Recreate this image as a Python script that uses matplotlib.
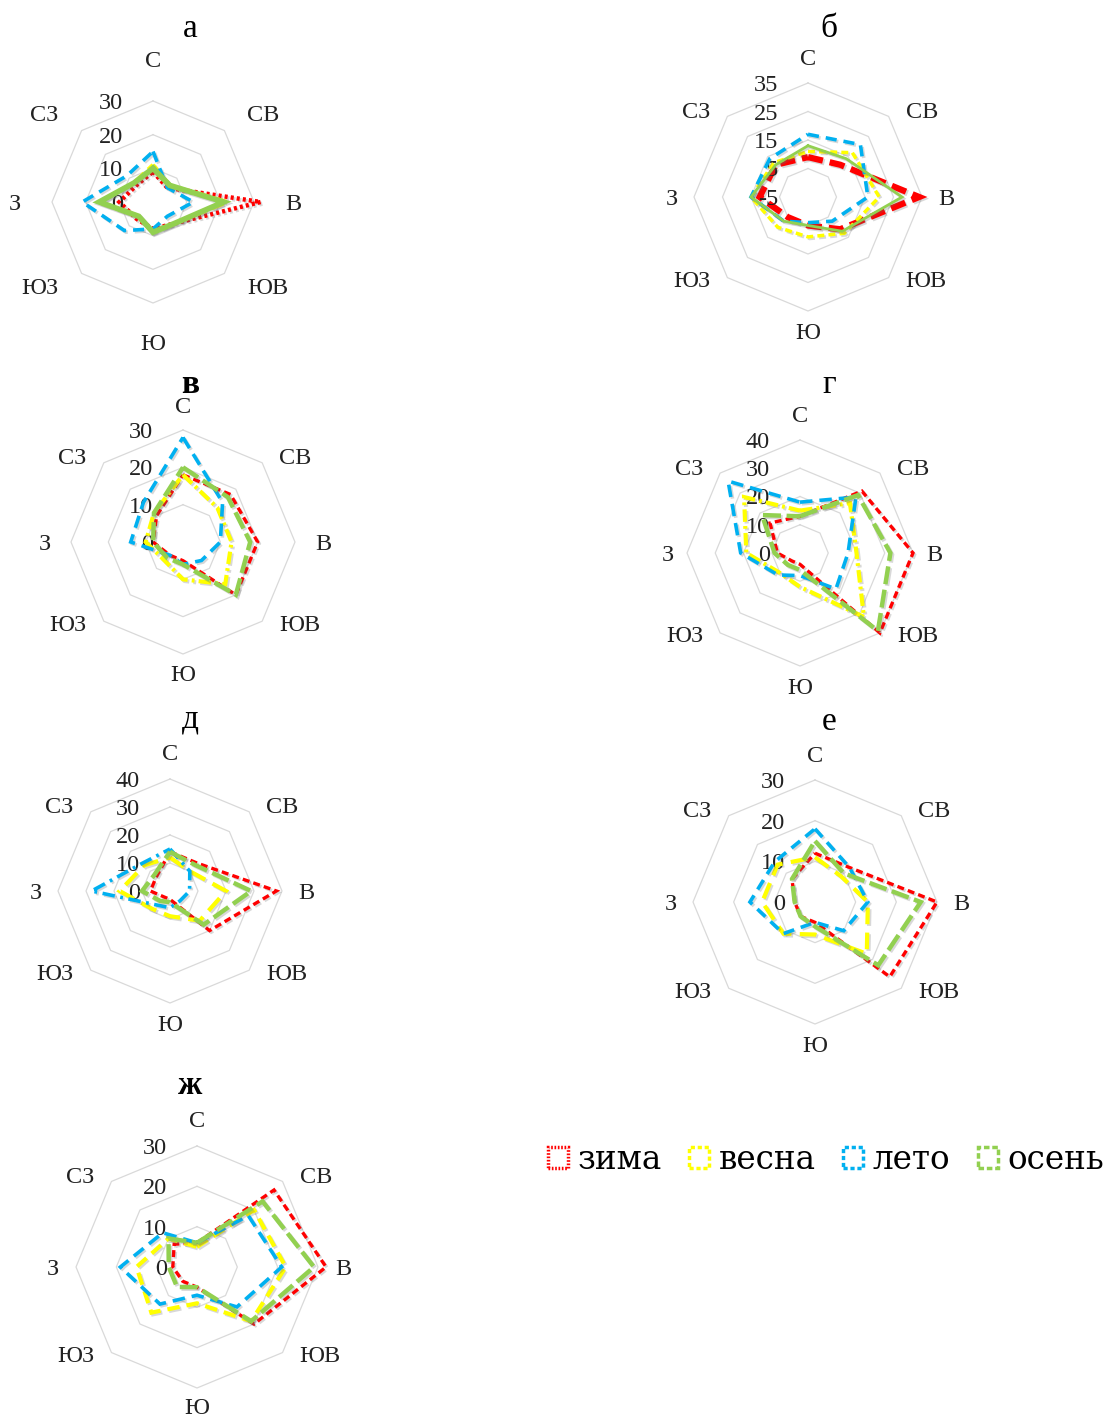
import matplotlib
matplotlib.use('Agg')
import matplotlib.pyplot as plt
import numpy as np
from matplotlib.patches import Patch
from matplotlib import patheffects as pe

plt.rcParams['font.family'] = ['Liberation Serif', 'DejaVu Serif']
plt.rcParams['lines.scale_dashes'] = False

# ---------------- data ----------------
directions = ['С', 'СВ', 'В', 'ЮВ', 'Ю', 'ЮЗ', 'З', 'СЗ']
seasons = ['зима', 'весна', 'лето', 'осень']
panel_titles = ['а', 'б', 'в', 'г', 'д', 'е', 'ж']

# panel а
a_zima = [9, 6, 32, 9, 8, 7, 10, 7]
a_vesna = [11, 7, 22, 9, 9, 6, 16, 8]
a_leto = [15, 6, 12, 6, 8, 12, 21, 11]
a_osen = [10, 7, 21, 9, 9, 6, 16, 8]
a_ticks = [0, 10, 20, 30]

# panel б
b_zima = [9, 11, 34, 11, 5, 5, 12, 11]
b_vesna = [11, 17, 20, 13, 9, 10, 15, 12]
b_leto = [17, 21, 16, 7, 4, 7, 15, 14]
b_osen = [13, 14, 28, 12, 5, 7, 15, 11]
b_ticks = [-5, 5, 15, 25, 35]

# panel в
v_zima = [18, 18, 20, 20, 5, 5, 8, 10]
v_vesna = [18, 13, 13, 16, 10, 7, 10, 11]
v_leto = [28, 15, 10, 7, 6, 5, 14, 15]
v_osen = [20, 17, 18, 20, 6, 6, 8, 11]
v_ticks = [0, 10, 20, 30]

# panel г
g_zima = [13, 31, 40, 40, 4, 4, 8, 15]
g_vesna = [15, 25, 20, 32, 12, 10, 19, 28]
g_leto = [18, 28, 17, 18, 8, 11, 21, 36]
g_osen = [13, 29, 32, 39, 6, 6, 9, 19]
g_ticks = [0, 10, 20, 30, 40]

# panel д
d_zima = [14, 14, 38, 20, 3, 3, 7, 7]
d_vesna = [12, 10, 20, 15, 9, 9, 18, 13]
d_leto = [15, 10, 7, 5, 6, 7, 28, 14]
d_osen = [14, 13, 29, 17, 4, 5, 10, 8]
d_ticks = [0, 10, 20, 30, 40]

# panel е
e_zima = [12, 12, 30, 26, 5, 5, 5, 8]
e_vesna = [11, 9, 13, 18, 8, 11, 13, 13]
e_leto = [18, 12, 13, 10, 5, 11, 16, 14]
e_osen = [15, 10, 26, 22, 6, 5, 5, 8]
e_ticks = [0, 10, 20, 30]

# panel ж
zh_zima = [6, 27, 32, 20, 5, 5, 6, 8]
zh_vesna = [5, 20, 22, 19, 9, 16, 15, 10]
zh_leto = [6, 18, 21, 14, 7, 13, 19, 12]
zh_osen = [6, 23, 29, 19, 5, 7, 7, 10]
zh_ticks = [0, 10, 20, 30]

panel_series = [
    [a_zima, a_vesna, a_leto, a_osen],
    [b_zima, b_vesna, b_leto, b_osen],
    [v_zima, v_vesna, v_leto, v_osen],
    [g_zima, g_vesna, g_leto, g_osen],
    [d_zima, d_vesna, d_leto, d_osen],
    [e_zima, e_vesna, e_leto, e_osen],
    [zh_zima, zh_vesna, zh_leto, zh_osen],
]
panel_ticks = [a_ticks, b_ticks, v_ticks, g_ticks, d_ticks, e_ticks, zh_ticks]

# ---------------- styles / layout ----------------
colors = ['#FF0000', '#FFFF00', '#00B0F0', '#92D050']

panel_styles = [
    [(3.2, (2.2, 2.2)), (3.0, (9, 4)), (2.6, (8, 5)), (4.0, None)],
    [(4.5, (11, 5)), (2.5, (5, 3)), (2.6, (8, 5)), (2.0, None)],
    [(2.4, (5, 3)), (3.0, (9, 3, 2, 3)), (2.6, (9, 5)), (3.2, (13, 4))],
    [(2.4, (5, 3)), (3.0, (9, 3, 2, 3)), (2.6, (9, 5)), (3.2, (13, 4))],
    [(2.4, (5, 3)), (3.0, (12, 6)), (2.6, (9, 4, 2, 4)), (3.2, (13, 4))],
    [(2.4, (5, 3)), (3.0, (12, 6)), (2.6, (8, 5)), (3.2, (13, 4))],
    [(2.4, (5, 3)), (3.0, (9, 5)), (2.6, (9, 5)), (3.2, (13, 4))],
]

W, H = 1113, 1417
# center x, center y, radius (px), title x, title baseline, top gap, side gap, bottom gap, diag offsets, bold
layout = [
    (153, 202, 101, 190, 37, 29, 31, 31, (23, 15), False),
    (808, 197, 114, 829, 37, 13, 16, 12, (17, 4), False),
    (183, 542, 112, 190, 393, 12, 20, 11, (17, 4), True),
    (800, 553, 113, 829, 393, 13, 13, 12, (17, 4), False),
    (170, 891, 112, 190, 728, 14, 16, 12, (17, 4), False),
    (815, 902, 122, 829, 730, 13, 16, 12, (17, 4), False),
    (197, 1267, 121, 190, 1094, 14, 17, 10, (17, 4), True),
]

PT = 0.72  # px -> pt at 100 dpi
fig = plt.figure(figsize=(W / 100, H / 100), dpi=100)

theta = np.deg2rad(np.arange(len(directions)) * 45.0)
theta_c = np.append(theta, theta[0])

shadow = [pe.SimpleLineShadow(offset=(1.2, -1.2), shadow_color='0.4', alpha=0.25), pe.Normal()]

for idx in range(7):
    cx, cy, R, tx, tb, gtop, gside, gbot, (ddx, ddy), bold = layout[idx]
    ticks = panel_ticks[idx]
    ax = fig.add_axes([(cx - R) / W, 1 - (cy + R) / H, 2 * R / W, 2 * R / H], projection='polar')
    ax.set_theta_zero_location('N')
    ax.set_theta_direction(-1)
    ax.set_ylim(ticks[0], ticks[-1])
    ax.grid(False)
    ax.spines['polar'].set_visible(False)
    ax.set_xticks([])
    ax.set_yticks([])
    ax.patch.set_visible(False)

    for v in ticks[1:]:
        ax.plot(theta_c, [v] * len(theta_c), color='#D9D9D9', lw=0.9, zorder=1, clip_on=False)

    for s, vals in enumerate(panel_series[idx]):
        lw, dashes = panel_styles[idx][s]
        vc = list(vals) + [vals[0]]
        line, = ax.plot(theta_c, vc, color=colors[s], lw=lw, zorder=3 + s, clip_on=False,
                        solid_joinstyle='miter', dash_joinstyle='miter', dash_capstyle='butt')
        if dashes is not None:
            line.set_dashes(dashes)
        line.set_path_effects(shadow)

    # tick labels
    for v in ticks:
        ax.annotate(str(v), xy=(0, v), xytext=(-30 * PT, 0), textcoords='offset points',
                    ha='right', va='center_baseline', fontsize=17.5, color='#222222',
                    annotation_clip=False)

    # direction labels
    rmax = ticks[-1]
    offs = [
        ((0, gtop), 'center', 'bottom'),
        ((ddx, ddy), 'left', 'center'),
        ((gside, 0), 'left', 'center_baseline'),
        ((ddx, -ddy), 'left', 'center'),
        ((0, -gbot), 'center', 'top'),
        ((-ddx, -ddy), 'right', 'center'),
        ((-gside, 0), 'right', 'center_baseline'),
        ((-ddx, ddy), 'right', 'center'),
    ]
    for k, name in enumerate(directions):
        (ox, oy), ha, va = offs[k]
        ax.annotate(name, xy=(theta[k], rmax), xytext=(ox * PT, oy * PT), textcoords='offset points',
                    ha=ha, va=va, fontsize=17.5, color='#222222', annotation_clip=False)

    fig.text(tx / W, 1 - tb / H, panel_titles[idx], ha='center', va='baseline', fontsize=24,
             fontweight='bold' if bold else 'normal', color='black')

# legend
leg_styles = [(0, (1.2, 1.2)), (0, (3, 2)), (0, (3, 2)), (0, (4, 2))]
handles = [Patch(facecolor='none', edgecolor=colors[i], linestyle=leg_styles[i], lw=2.5)
           for i in range(4)]
fig.legend(handles, seasons, loc='center left', bbox_to_anchor=(548 / W, 1 - 1160 / H),
           ncol=4, frameon=False, handlelength=0.6, handleheight=0.6,
           handletextpad=0.3, columnspacing=0.85, borderpad=0, borderaxespad=0,
           prop={'family': ['DejaVu Serif'], 'size': 23.5})

fig.savefig('out.png', dpi=100, facecolor='white')
